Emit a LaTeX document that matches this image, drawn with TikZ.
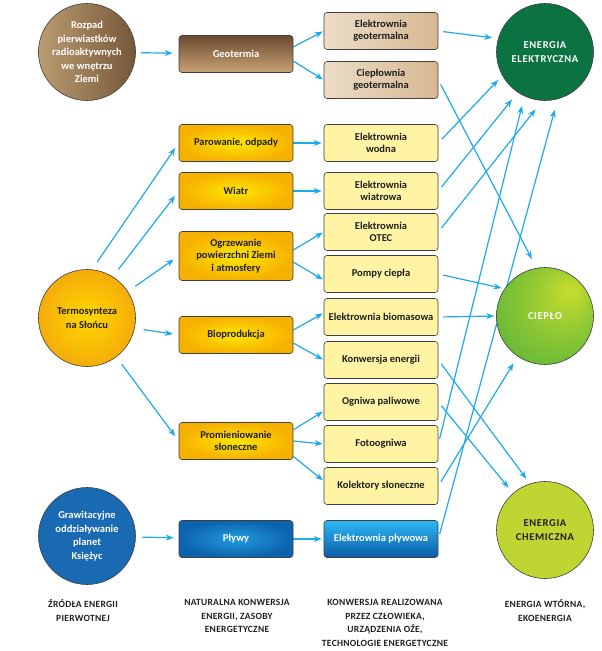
\documentclass[tikz,border=0pt]{standalone}
\usepackage{fontspec}
\setmainfont{Carlito}
\usetikzlibrary{arrows.meta}
\usetikzlibrary{backgrounds}

\definecolor{edge}{HTML}{3F3F3F}
\definecolor{arrowblue}{HTML}{1DAAE8}
\definecolor{rozA}{HTML}{BA9C72}
\definecolor{rozB}{HTML}{765739}
\definecolor{geoA}{HTML}{6B4B2E}
\definecolor{geoB}{HTML}{C9A276}
\definecolor{tanA}{HTML}{EEDDC8}
\definecolor{tanB}{HTML}{D6B792}
\definecolor{termA}{HTML}{FFD800}
\definecolor{termB}{HTML}{F5AC0A}
\definecolor{yelA}{HTML}{FFE600}
\definecolor{yelB}{HTML}{F6B000}
\definecolor{pale}{HTML}{FFF4A3}
\definecolor{grawBlue}{HTML}{1A69B3}
\definecolor{plyA}{HTML}{229BE0}
\definecolor{plyB}{HTML}{0B63AD}
\definecolor{plwA}{HTML}{2DB8F4}
\definecolor{plwB}{HTML}{0A5CA6}
\definecolor{elekGreen}{HTML}{0B7342}
\definecolor{cieploA}{HTML}{C9DD2E}
\definecolor{cieploB}{HTML}{3AA93C}
\definecolor{chemGreen}{HTML}{BFD531}

\pgfdeclareradialshading{cieploshade}{\pgfpoint{14bp}{14bp}}{color(0bp)=(cieploA); color(18bp)=(cieploA!60!cieploB); color(50bp)=(cieploB)}

\begin{document}
\begin{tikzpicture}[x=1pt,y=-1pt,
    every node/.style={font=\fontsize{10.5}{12.4}\selectfont\bfseries,align=center,text=black!88},
    src/.style={circle,draw=edge,line width=0.6pt,minimum size=97pt,inner sep=0pt,
      font=\fontsize{10.5}{13.6}\selectfont\bfseries},
    box/.style={rectangle,rounded corners=3pt,draw=edge,line width=0.6pt,
      minimum width=114pt,minimum height=37pt,inner sep=1pt},
    caps/.style={font=\fontsize{10.5}{13.4}\selectfont\bfseries\addfontfeature{LetterSpace=6}},
    foot/.style={anchor=north,font=\fontsize{9.5}{13.6}\selectfont\bfseries\addfontfeature{LetterSpace=3}},
    arr/.style={draw=arrowblue,line width=1.2pt,-{Stealth[length=8pt,width=6pt]}}]
  \useasboundingbox (0,0) rectangle (602,651);

  \node[src,left color=rozA,right color=rozB,text=white] (rozpad) at (87,52)
    {Rozpad\\pierwiastków\\radioaktywnych\\we wnętrzu\\Ziemi};
  \node[src,inner color=termA,outer color=termB] (termo) at (87,318) {Termosynteza\\na Słońcu};
  \node[src,fill=grawBlue,text=white] (graw) at (87,536) {Grawitacyjne\\oddziaływanie\\planet\\Księżyc};

  \node[box,top color=geoA,bottom color=geoB,text=white] (geot) at (236,54) {Geotermia};
  \node[box,inner color=yelA,outer color=yelB] (parow) at (236,143) {Parowanie, odpady};
  \node[box,inner color=yelA,outer color=yelB] (wiatr) at (236,191) {Wiatr};
  \node[box,inner color=yelA,outer color=yelB,minimum height=49pt] (ogrz) at (236,256)
    {Ogrzewanie\\powierzchni Ziemi\\i atmosfery};
  \node[box,inner color=yelA,outer color=yelB] (bio) at (236,335) {Bioprodukcja};
  \node[box,inner color=yelA,outer color=yelB] (prom) at (236,441) {Promieniowanie\\słoneczne};
  \node[box,inner color=plyA,outer color=plyB,text=white] (plywy) at (236,539) {Pływy};

  \node[box,left color=tanA,right color=tanB] (elgeo) at (381,31) {Elektrownia\\geotermalna};
  \node[box,left color=tanA,right color=tanB] (cgeo) at (381,80) {Ciepłownia\\geotermalna};
  \node[box,fill=pale] (wodna) at (381,143) {Elektrownia\\wodna};
  \node[box,fill=pale] (wiatrowa) at (381,191) {Elektrownia\\wiatrowa};
  \node[box,fill=pale] (otec) at (381,232) {Elektrownia\\OTEC};
  \node[box,fill=pale] (pompy) at (381,274) {Pompy ciepła};
  \node[box,fill=pale] (biom) at (381,317) {Elektrownia biomasowa};
  \node[box,fill=pale] (konw) at (381,360) {Konwersja energii};
  \node[box,fill=pale] (ogniwa) at (381,402) {Ogniwa paliwowe};
  \node[box,fill=pale] (foto) at (381,444) {Fotoogniwa};
  \node[box,fill=pale] (kolekt) at (381,486) {Kolektory słoneczne};
  \node[box,top color=plwA,bottom color=plwB,text=white] (plywowa) at (381,539) {Elektrownia pływowa};

  \node[src,caps,fill=elekGreen,text=white] (elek) at (545,52) {ENERGIA\\ELEKTRYCZNA};
  \node[src,caps,shading=cieploshade,text=white] (ciep) at (545,316) {CIEPŁO};
  \node[src,caps,fill=chemGreen] (chem) at (545,530) {ENERGIA\\CHEMICZNA};

  \node[foot] (zrodla) at (83,596) {ŹRÓDŁA ENERGII\\PIERWOTNEJ};
  \node[foot] (natur) at (237,596) {NATURALNA KONWERSJA\\ENERGII, ZASOBY\\ENERGETYCZNE};
  \node[foot] (konwcz) at (385,596) {KONWERSJA REALIZOWANA\\PRZEZ CZŁOWIEKA,\\URZĄDZENIA OŹE,\\TECHNOLOGIE ENERGETYCZNE};
  \node[foot] (wtorna) at (545,596) {ENERGIA WTÓRNA,\\EKOENERGIA};

  \begin{scope}[on background layer]
    \draw[arr,shorten <=5pt,shorten >=6pt] (rozpad) -- (geot);
    \draw[arr,shorten <=6pt,shorten >=5pt] (graw) -- (plywy);
    \foreach \a/\b in {84/parow,58/wiatr,33/ogrz,-12/bio,-53/prom}
      \draw[arr,shorten <=9pt,shorten >=6pt] (termo.\a) -- (\b.west);
    \draw[arr,shorten >=1pt] (geot.7) -- (elgeo.west);
    \draw[arr,shorten >=1pt] (geot.-7) -- (cgeo.west);
    \draw[arr,shorten >=2pt] (parow) -- (wodna);
    \draw[arr,shorten >=2pt] (wiatr) -- (wiatrowa);
    \draw[arr,shorten >=2pt] (plywy) -- (plywowa);
    \draw[arr,shorten >=1pt] (ogrz.6) -- (otec.west);
    \draw[arr,shorten >=1pt] (ogrz.-6) -- (pompy.186);
    \draw[arr,shorten >=1pt] (bio.5) -- (biom.176);
    \draw[arr,shorten >=1pt] (bio.-8) -- (konw.west);
    \draw[arr,shorten >=1pt] (prom.11) -- (ogniwa.189);
    \draw[arr,shorten >=1pt] (prom.east) -- (foto.west);
    \draw[arr,shorten >=1pt] (prom.-15) -- (kolekt.175);
    \foreach \s/\t/\g in {elgeo/elek.164/6,cgeo/ciep.100/10,wodna/elek.209/6,wiatrowa/elek.236/9,
        foto/elek.245/10,otec/elek.267/11,plywowa/elek.285/11,pompy/ciep.146/3,biom/ciep.180/2,
        kolekt/ciep.236/8,konw/chem.108/6,ogniwa/chem.131/7}
      \draw[arr,shorten <=5pt,shorten >=\g pt] (\s.east) -- (\t);
  \end{scope}
\end{tikzpicture}
\end{document}
